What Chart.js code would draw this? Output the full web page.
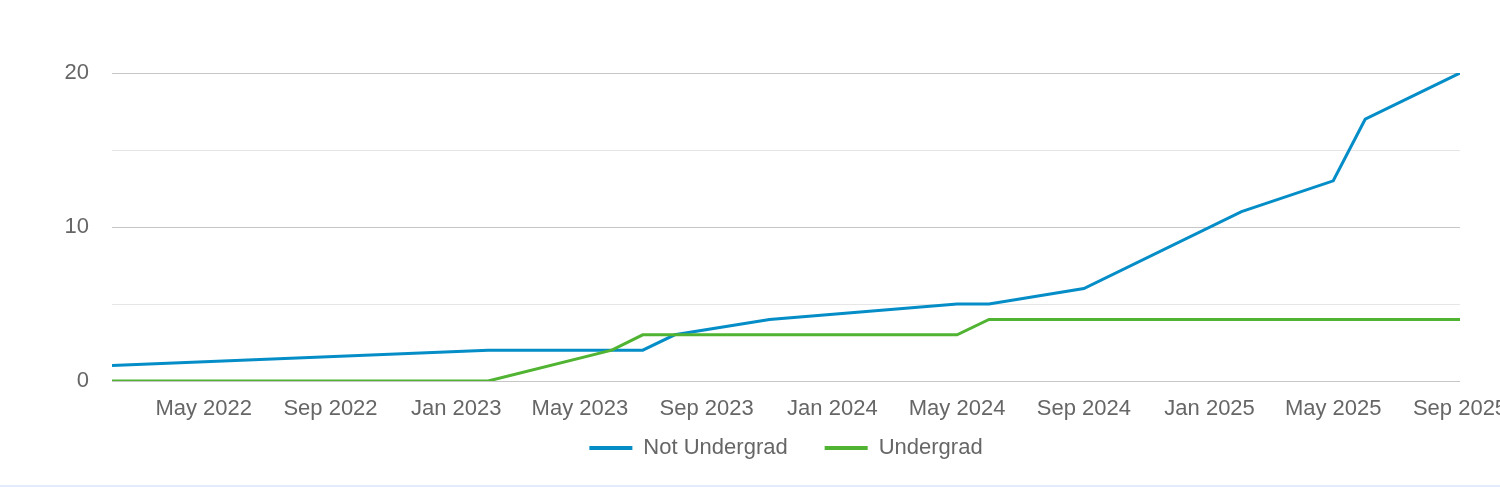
<!DOCTYPE html>
<html>
<head>
<meta charset="utf-8">
<script src="https://cdn.jsdelivr.net/npm/chart.js@4.4.1/dist/chart.umd.min.js"></script>
<style>
  html, body { margin: 0; padding: 0; background: #ffffff; overflow: hidden; }
  #wrap { width: 1500px; height: 485px; position: relative; }
  #strip { width: 1500px; height: 2px; background: #e3ecfa; }
  canvas { display: block; }
</style>
</head>
<body>
<div id="wrap"><canvas id="c" width="1500" height="485"></canvas></div>
<div id="strip"></div>
<script>
// ---- Data ----
const seriesNames = ['Not Undergrad', 'Undergrad'];

const notUndergradDates  = ['2022-02-01','2023-02-01','2023-07-01','2023-08-01','2023-11-01','2024-05-01','2024-06-01','2024-09-01','2025-02-01','2025-05-01','2025-06-01','2025-09-01'];
const notUndergradValues = [1, 2, 2, 3, 4, 5, 5, 6, 11, 13, 17, 20];

const undergradDates  = ['2022-02-01','2023-02-01','2023-06-01','2023-07-01','2024-05-01','2024-06-01','2025-09-01'];
const undergradValues = [0, 0, 2, 3, 3, 4, 4];

const xTickDates  = ['2022-05-01','2022-09-01','2023-01-01','2023-05-01','2023-09-01','2024-01-01','2024-05-01','2024-09-01','2025-01-01','2025-05-01','2025-09-01'];
const xTickLabels = ['May 2022','Sep 2022','Jan 2023','May 2023','Sep 2023','Jan 2024','May 2024','Sep 2024','Jan 2025','May 2025','Sep 2025'];

const xMinDate = '2022-02-01';
const xMaxDate = '2025-09-01';

const yMin = 0, yMax = 20, yStep = 5, yLabelEvery = 10;

// ---- Helpers ----
function toMs(s) {
  const p = s.split('-').map(Number);
  return Date.UTC(p[0], p[1] - 1, p[2]);
}
function toPoints(dates, values) {
  return dates.map((d, i) => ({ x: toMs(d), y: values[i] }));
}

const BLUE = '#058DC7';
const GREEN = '#50B432';
const TEXT = '#666666';
const FONT = "'Liberation Sans', Arial, Helvetica, sans-serif";

// The x axis takes little layout room so the legend sits close; give its
// label clip box its full height back after layout.
const axisLabelRoom = {
  id: 'axisLabelRoom',
  afterLayout(chart) {
    const x = chart.scales.x;
    x.bottom = x.top + 46;
    x.height = 46;
  }
};

const chart = new Chart(document.getElementById('c'), {
  type: 'line',
  data: {
    datasets: [
      {
        label: seriesNames[0],
        data: toPoints(notUndergradDates, notUndergradValues),
        borderColor: BLUE,
        backgroundColor: BLUE,
        borderWidth: 3,
        pointRadius: 0,
        pointHoverRadius: 0,
        tension: 0,
        fill: false,
        order: 1
      },
      {
        label: seriesNames[1],
        data: toPoints(undergradDates, undergradValues),
        borderColor: GREEN,
        backgroundColor: GREEN,
        borderWidth: 3,
        pointRadius: 0,
        pointHoverRadius: 0,
        tension: 0,
        fill: false,
        order: 0
      }
    ]
  },
  plugins: [axisLabelRoom],
  options: {
    responsive: false,
    devicePixelRatio: 1,
    animation: false,
    layout: { padding: { left: 65, right: 40, top: 73, bottom: 16 } },
    font: { family: FONT },
    scales: {
      x: {
        type: 'linear',
        min: toMs(xMinDate),
        max: toMs(xMaxDate),
        grid: { display: false, drawTicks: false },
        border: { display: false },
        afterBuildTicks: (scale) => {
          scale.ticks = xTickDates.map(d => ({ value: toMs(d) }));
        },
        afterFit: (scale) => {
          scale.paddingLeft = 0;
          scale.paddingRight = 0;
          scale.height = 19;
        },
        ticks: {
          autoSkip: false,
          maxRotation: 0,
          minRotation: 0,
          padding: 15,
          color: TEXT,
          font: { family: FONT, size: 22 },
          callback: (value, index) => xTickLabels[index]
        }
      },
      y: {
        min: yMin,
        max: yMax,
        grid: {
          drawTicks: false,
          lineWidth: 1,
          color: (ctx) => (ctx.tick && ctx.tick.value % yLabelEvery === 0) ? '#c6c6c6' : '#e6e6e6'
        },
        border: { display: false },
        afterFit: (scale) => {
          scale.width = 47;
          scale.paddingTop = 0;
          scale.paddingBottom = 0;
        },
        ticks: {
          stepSize: yStep,
          padding: 23,
          color: TEXT,
          font: { family: FONT, size: 22 },
          callback: (v) => (v % yLabelEvery === 0 ? String(v) : '')
        }
      }
    },
    plugins: {
      tooltip: { enabled: false },
      legend: {
        position: 'bottom',
        fullSize: false,
        labels: {
          boxWidth: 43,
          boxHeight: 4,
          padding: 37,
          color: TEXT,
          font: { family: FONT, size: 22 },
          sort: (a, b) => a.datasetIndex - b.datasetIndex,
          generateLabels: (ch) => Chart.defaults.plugins.legend.labels.generateLabels(ch).map(l => Object.assign(l, { lineWidth: 0, fillStyle: l.strokeStyle }))
        }
      }
    }
  }
});
</script>
</body>
</html>
